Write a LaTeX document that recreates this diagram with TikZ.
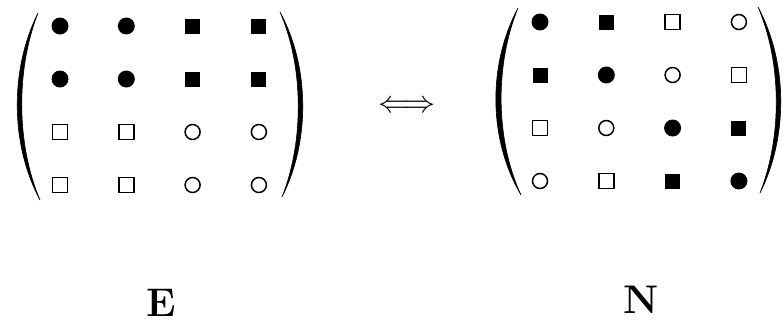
\documentclass[tikz,border=0pt]{standalone}
\usepackage{tikz}
\usetikzlibrary{positioning}

\begin{document}
\begin{tikzpicture}[
		  x=1pt, y=-1pt,
		  sym/.style={inner sep=0pt, outer sep=0pt},
		  blackdot/.style={sym, circle, fill=black, minimum size=17pt},
		  blacksq/.style={sym, rectangle, fill=black, minimum size=15pt},
		  whitesq/.style={sym, rectangle, draw, line width=1.5pt, minimum size=15pt},
		  whitedot/.style={sym, circle, draw, line width=1.5pt, minimum size=15pt},
		  paren/.style={fill=black, draw=black, line width=0.6pt},
		  bigletter/.style={font=\fontsize{40}{48}\selectfont\bfseries}
		]
		\useasboundingbox (0,0) rectangle (783,324);

		% --- matrix E ---
		\foreach \row [count=\r] in {{blackdot,blackdot,blacksq,blacksq},
		                             {blackdot,blackdot,blacksq,blacksq},
		                             {whitesq,whitesq,whitedot,whitedot},
		                             {whitesq,whitesq,whitedot,whitedot}}
		  \foreach \s [count=\c] in \row
		    \node[\s] (e-\r-\c) at ({60+66.3*(\c-1)},{26+53*(\r-1)}) {};

		% --- matrix N ---
		\foreach \row [count=\r] in {{blackdot,blacksq,whitesq,whitedot},
		                             {blacksq,blackdot,whitedot,whitesq},
		                             {whitesq,whitedot,blackdot,blacksq},
		                             {whitedot,whitesq,blacksq,blackdot}}
		  \foreach \s [count=\c] in \row
		    \node[\s] (n-\r-\c) at ({540+66.3*(\c-1)},{22+53*(\r-1)}) {};

		% --- parentheses ---
		\path[paren] (38,13) .. controls (10,69) and (10,144) .. (40,200)
		  .. controls (16,144) and (16,69) .. cycle;
		\path[paren] (280,12) .. controls (310,67) and (310,142) .. (282,197)
		  .. controls (304,142) and (304,67) .. cycle;
		\path[paren] (518,8) .. controls (488,64) and (488,139) .. (521,195)
		  .. controls (495,139) and (495,64) .. cycle;
		\path[paren] (758,7) .. controls (788,63) and (788,137) .. (760,193)
		  .. controls (782,137) and (782,63) .. cycle;

		% --- equivalence and labels ---
		\node[scale=3.1, inner sep=0pt] (equiv) at (407,107) {$\Longleftrightarrow$};
		\node[bigletter] (E) at (161,303) {E};
		\node[bigletter] (N) at (641,300) {N};

		\end{tikzpicture}
\end{document}
